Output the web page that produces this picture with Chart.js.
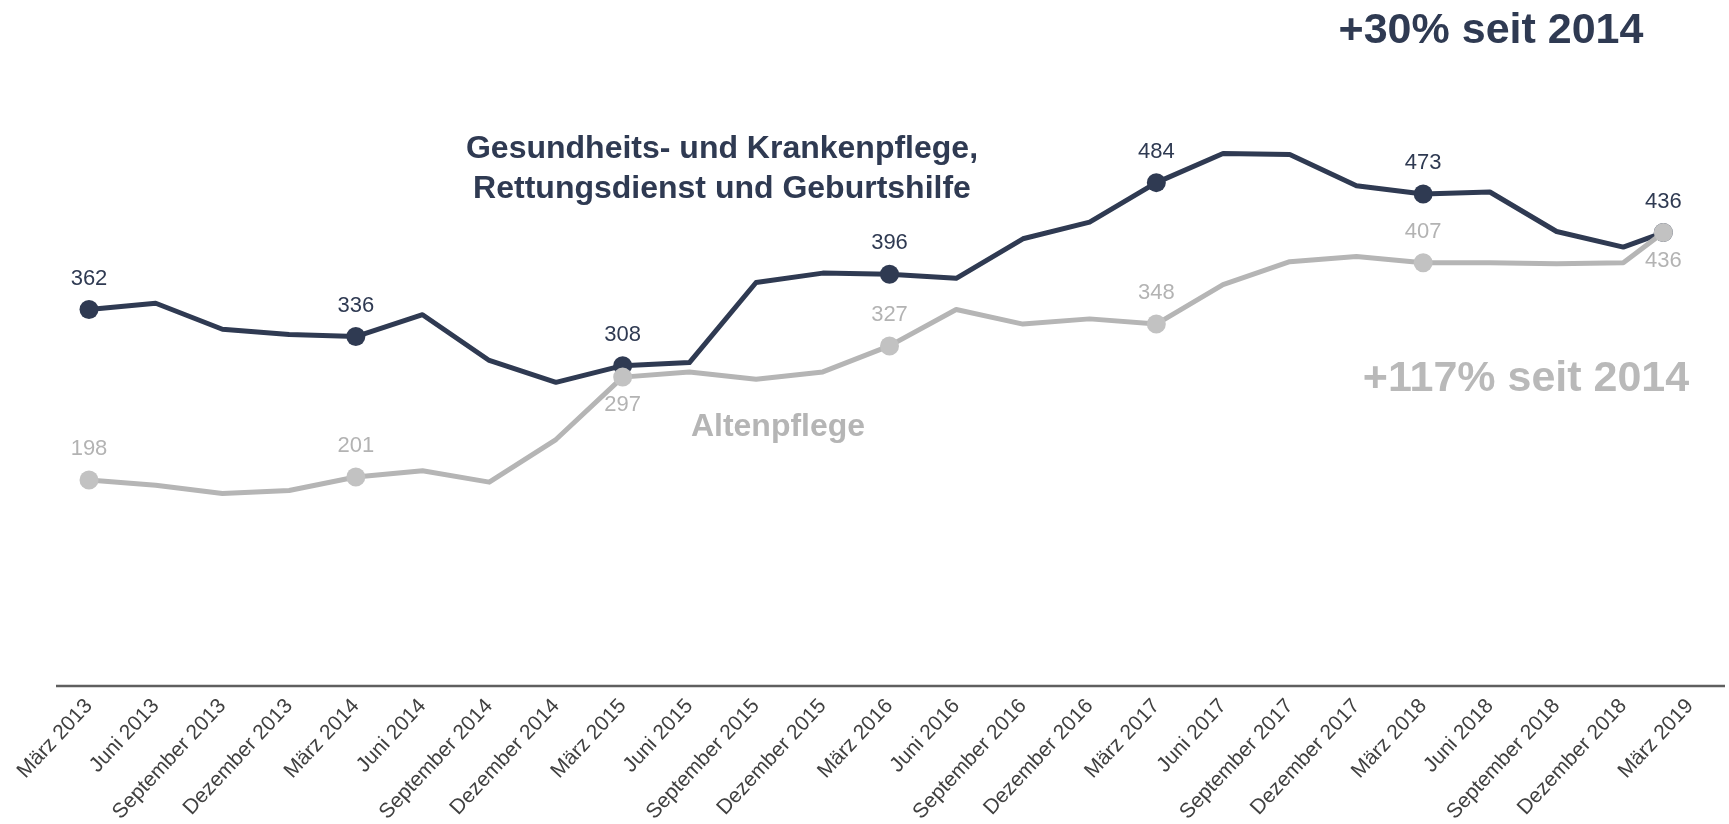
<!DOCTYPE html>
<html lang="de">
<head>
<meta charset="utf-8">
<title>Pflegeberufe – Entwicklung seit 2013</title>
<script src="https://cdn.jsdelivr.net/npm/chart.js@4.4.1/dist/chart.umd.min.js"></script>
<style>
  html, body { margin: 0; padding: 0; background: #fff; }
  #wrap { width: 1729px; height: 824px; }
</style>
</head>
<body>
<div id="wrap"><canvas id="chart" width="1729" height="824"></canvas></div>
<script>
// ==== Data ====
const quarters = [
    'März 2013', 'Juni 2013', 'September 2013', 'Dezember 2013',
    'März 2014', 'Juni 2014', 'September 2014', 'Dezember 2014',
    'März 2015', 'Juni 2015', 'September 2015', 'Dezember 2015',
    'März 2016', 'Juni 2016', 'September 2016', 'Dezember 2016',
    'März 2017', 'Juni 2017', 'September 2017', 'Dezember 2017',
    'März 2018', 'Juni 2018', 'September 2018', 'Dezember 2018',
    'März 2019'
];
// position of each observation on the quarter axis (the last one sits a bit short of its tick)
const xPos = [0, 1, 2, 3, 4, 5, 6, 7, 8, 9, 10, 11, 12, 13, 14, 15, 16, 17, 18, 19, 20, 21, 22, 23, 23.6];
const krankenpflege = [362, 368, 343, 338, 336, 357, 313, 292, 308, 311, 388, 397, 396, 392, 430, 446, 484, 512, 511, 481, 473, 475, 437, 422, 436];
const altenpflege = [198, 193, 185, 188, 201, 207, 196, 237, 297, 302, 295, 302, 327, 362, 348, 353, 348, 386, 408, 413, 407, 407, 406, 407, 436];
// marked points (each March)
const labelIdx = [0, 4, 8, 12, 16, 20, 24];

const FONT = '"Liberation Sans", Arial, sans-serif';
const DARK = '#2f3a52';
const GREY = '#b5b5b5';

const toPoints = arr => arr.map((y, i) => ({ x: xPos[i], y }));

// ==== Plugins ====
const baseline = {
    id: 'baseline',
    beforeDatasetsDraw(chart) {
        const ctx = chart.ctx;
        const y = chart.chartArea.bottom;
        ctx.save();
        ctx.strokeStyle = '#5f5f5f';
        ctx.lineWidth = 2.5;
        ctx.beginPath();
        ctx.moveTo(56, y);
        ctx.lineTo(1725, y);
        ctx.stroke();
        ctx.restore();
    }
};

const valueLabels = {
    id: 'valueLabels',
    afterDatasetsDraw(chart) {
        const ctx = chart.ctx;
        ctx.save();
        ctx.font = `22px ${FONT}`;
        ctx.textAlign = 'center';
        ctx.textBaseline = 'middle';
        chart.data.datasets.forEach((ds, di) => {
            const meta = chart.getDatasetMeta(di);
            labelIdx.forEach(i => {
                const pt = meta.data[i];
                const v = ds.data[i].y;
                let dy = -31;
                // grey label goes under its point when the dark one sits right above
                if (di === 1 && Math.abs(krankenpflege[i] - v) < 20) dy = 28;
                ctx.fillStyle = ds.labelColor;
                ctx.fillText(String(v), pt.x, pt.y + dy);
            });
        });
        ctx.restore();
    }
};

const annotations = {
    id: 'annotations',
    afterDraw(chart) {
        const ctx = chart.ctx;
        ctx.save();
        ctx.textAlign = 'center';
        ctx.textBaseline = 'middle';

        ctx.fillStyle = DARK;
        ctx.font = `bold 32px ${FONT}`;
        ctx.fillText('Gesundheits- und Krankenpflege,', 722, 149);
        ctx.fillText('Rettungsdienst und Geburtshilfe', 722, 189);

        ctx.fillStyle = GREY;
        ctx.fillText('Altenpflege', 778, 427);

        ctx.font = `bold 43px ${FONT}`;
        ctx.fillStyle = DARK;
        ctx.fillText('+30% seit 2014', 1491, 31);
        ctx.fillStyle = '#b9b9b9';
        ctx.fillText('+117% seit 2014', 1526, 379);
        ctx.restore();
    }
};

// ==== Chart ====
const marked = c => labelIdx.includes(c.dataIndex) ? 9.5 : 0;

new Chart(document.getElementById('chart'), {
    type: 'line',
    data: {
        datasets: [
            {
                label: 'Gesundheits- und Krankenpflege, Rettungsdienst und Geburtshilfe',
                data: toPoints(krankenpflege),
                borderColor: DARK,
                backgroundColor: DARK,
                labelColor: DARK,
                borderWidth: 5,
                pointRadius: marked,
                pointHoverRadius: marked,
                pointBorderWidth: 0,
                borderJoinStyle: 'round',
                tension: 0,
                clip: false,
                order: 1
            },
            {
                label: 'Altenpflege',
                data: toPoints(altenpflege),
                borderColor: GREY,
                backgroundColor: '#c2c2c2',
                labelColor: '#b3b3b3',
                borderWidth: 5,
                pointRadius: marked,
                pointHoverRadius: marked,
                pointBorderWidth: 0,
                borderJoinStyle: 'round',
                tension: 0,
                clip: false,
                order: 0
            }
        ]
    },
    options: {
        responsive: false,
        animation: false,
        devicePixelRatio: 1,
        layout: { padding: { left: 89, right: 39, top: 62, bottom: 0 } },
        plugins: {
            legend: { display: false },
            tooltip: { enabled: false }
        },
        scales: {
            x: {
                type: 'linear',
                min: 0,
                max: quarters.length - 1,
                grid: { display: false, drawTicks: false },
                border: { display: false },
                afterBuildTicks(scale) {
                    scale.ticks = quarters.map((_, i) => ({ value: i }));
                },
                afterFit(scale) { scale.height = 138; },
                ticks: {
                    autoSkip: false,
                    maxRotation: 47,
                    minRotation: 47,
                    padding: 8,
                    color: '#404040',
                    font: { family: FONT, size: 21 },
                    callback: v => quarters[v]
                }
            },
            y: {
                display: false,
                min: 0,
                max: 600
            }
        }
    },
    plugins: [baseline, valueLabels, annotations]
});
</script>
</body>
</html>
